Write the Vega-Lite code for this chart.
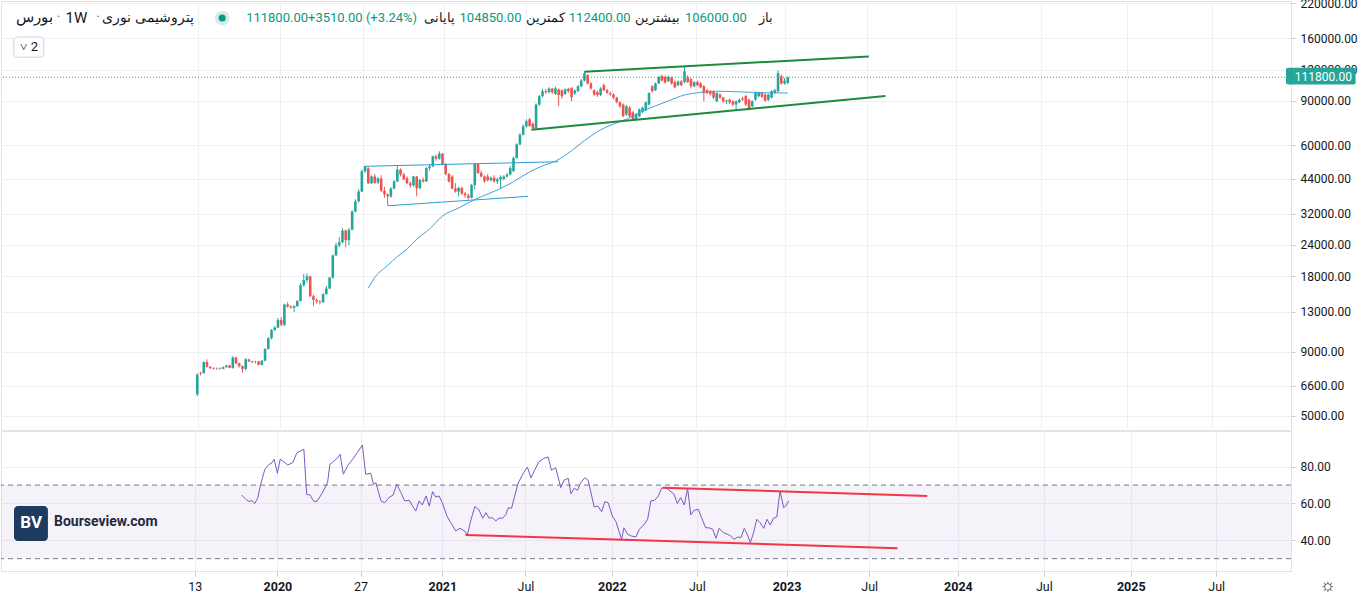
{
  "$schema": "https://vega.github.io/schema/vega-lite/v6.json",
  "background": "white",
  "padding": {"left": 0, "top": -4, "right": 0, "bottom": 0},
  "spacing": 1,
  "bounds": "flush",
  "config": {
    "view": {"stroke": "#e0e3eb"},
    "font": "Roboto",
    "axis": {"labelFont": "Roboto", "labelFontSize": 12, "labelColor": "#131722", "gridColor": "#eef0f4", "gridWidth": 1, "tickColor": "#c9ccd4", "domain": false, "title": null},
    "text": {"font": "Roboto"}
  },
  "datasets": {
    "one": [{}],
    "candles": [
      {"date":"2019-07-05","open":6100,"high":7400,"low":6000,"close":7300},
      {"date":"2019-07-12","open":7420,"high":7500,"low":7250,"close":7380},
      {"date":"2019-07-19","open":7400,"high":8250,"low":7380,"close":8200},
      {"date":"2019-07-26","open":8200,"high":8400,"low":7800,"close":7850},
      {"date":"2019-08-02","open":7850,"high":7900,"low":7700,"close":7750},
      {"date":"2019-08-09","open":7760,"high":7820,"low":7650,"close":7720},
      {"date":"2019-08-16","open":7720,"high":7800,"low":7650,"close":7740},
      {"date":"2019-08-23","open":7740,"high":7800,"low":7650,"close":7700},
      {"date":"2019-08-30","open":7700,"high":7880,"low":7680,"close":7820},
      {"date":"2019-09-06","open":7820,"high":8000,"low":7800,"close":7950},
      {"date":"2019-09-13","open":7950,"high":8000,"low":7750,"close":7780},
      {"date":"2019-09-20","open":7780,"high":8650,"low":7720,"close":8550},
      {"date":"2019-09-27","open":8550,"high":8600,"low":8050,"close":8100},
      {"date":"2019-10-04","open":8100,"high":8150,"low":7800,"close":7900},
      {"date":"2019-10-11","open":7900,"high":7950,"low":7450,"close":7700},
      {"date":"2019-10-18","open":7700,"high":8500,"low":7600,"close":8400},
      {"date":"2019-10-25","open":8400,"high":8450,"low":8200,"close":8250},
      {"date":"2019-11-01","open":8250,"high":8300,"low":8100,"close":8200},
      {"date":"2019-11-08","open":8200,"high":8300,"low":8100,"close":8230},
      {"date":"2019-11-15","open":8230,"high":8300,"low":7950,"close":8000},
      {"date":"2019-11-22","open":8000,"high":8350,"low":7950,"close":8300},
      {"date":"2019-11-29","open":8300,"high":9300,"low":8250,"close":9250},
      {"date":"2019-12-06","open":9250,"high":10300,"low":9200,"close":10200},
      {"date":"2019-12-13","open":10200,"high":11100,"low":10100,"close":11000},
      {"date":"2019-12-20","open":11000,"high":11400,"low":10900,"close":11250},
      {"date":"2019-12-27","open":11250,"high":12300,"low":11200,"close":12050},
      {"date":"2020-01-03","open":12050,"high":12400,"low":11400,"close":11550},
      {"date":"2020-01-10","open":11550,"high":14000,"low":11400,"close":13900},
      {"date":"2020-01-17","open":13900,"high":14200,"low":13500,"close":13650},
      {"date":"2020-01-24","open":13650,"high":13800,"low":13400,"close":13500},
      {"date":"2020-01-31","open":13500,"high":13800,"low":13000,"close":13700},
      {"date":"2020-02-07","open":13700,"high":14500,"low":13600,"close":14350},
      {"date":"2020-02-14","open":14350,"high":16900,"low":14300,"close":16600},
      {"date":"2020-02-21","open":16600,"high":18400,"low":16400,"close":17400},
      {"date":"2020-02-28","open":17400,"high":18500,"low":17000,"close":18000},
      {"date":"2020-03-06","open":18000,"high":18100,"low":14900,"close":15000},
      {"date":"2020-03-13","open":15000,"high":15200,"low":13700,"close":14500},
      {"date":"2020-03-20","open":14500,"high":14700,"low":14000,"close":14300},
      {"date":"2020-03-27","open":14300,"high":14500,"low":13900,"close":14200},
      {"date":"2020-04-03","open":14200,"high":15400,"low":14100,"close":15300},
      {"date":"2020-04-10","open":15300,"high":16500,"low":15200,"close":16100},
      {"date":"2020-04-17","open":16100,"high":17900,"low":16000,"close":17800},
      {"date":"2020-04-24","open":17800,"high":22000,"low":17600,"close":21800},
      {"date":"2020-05-01","open":21800,"high":24500,"low":21700,"close":23900},
      {"date":"2020-05-08","open":23900,"high":25800,"low":23500,"close":24600},
      {"date":"2020-05-15","open":24600,"high":28000,"low":24400,"close":27400},
      {"date":"2020-05-22","open":27400,"high":27600,"low":23500,"close":25100},
      {"date":"2020-05-29","open":25100,"high":28000,"low":24000,"close":27600},
      {"date":"2020-06-05","open":27600,"high":33000,"low":27500,"close":32600},
      {"date":"2020-06-12","open":32600,"high":36500,"low":32400,"close":35800},
      {"date":"2020-06-19","open":35800,"high":40000,"low":35500,"close":39200},
      {"date":"2020-06-26","open":39200,"high":48000,"low":39000,"close":47200},
      {"date":"2020-07-03","open":47200,"high":49600,"low":46500,"close":49400},
      {"date":"2020-07-10","open":48500,"high":49000,"low":42000,"close":42300},
      {"date":"2020-07-17","open":42300,"high":45500,"low":42000,"close":45000},
      {"date":"2020-07-24","open":45000,"high":46000,"low":42000,"close":42500},
      {"date":"2020-07-31","open":42500,"high":44800,"low":42000,"close":44200},
      {"date":"2020-08-07","open":44200,"high":45500,"low":39000,"close":39500},
      {"date":"2020-08-14","open":39500,"high":41000,"low":37000,"close":38200},
      {"date":"2020-08-21","open":38200,"high":38500,"low":34500,"close":37500},
      {"date":"2020-08-28","open":37500,"high":40800,"low":37000,"close":40300},
      {"date":"2020-09-04","open":40300,"high":43500,"low":40000,"close":43000},
      {"date":"2020-09-11","open":43000,"high":49700,"low":42800,"close":47900},
      {"date":"2020-09-18","open":47900,"high":48500,"low":45000,"close":45800},
      {"date":"2020-09-25","open":45800,"high":46500,"low":43500,"close":43900},
      {"date":"2020-10-02","open":44300,"high":45000,"low":42000,"close":42300},
      {"date":"2020-10-09","open":42300,"high":43000,"low":40500,"close":41500},
      {"date":"2020-10-16","open":41500,"high":45300,"low":41000,"close":45000},
      {"date":"2020-10-23","open":45000,"high":45200,"low":37500,"close":40400},
      {"date":"2020-10-30","open":40400,"high":44000,"low":40000,"close":43600},
      {"date":"2020-11-06","open":43600,"high":44500,"low":42500,"close":43000},
      {"date":"2020-11-13","open":43000,"high":49000,"low":42800,"close":48600},
      {"date":"2020-11-20","open":48600,"high":50500,"low":47500,"close":49400},
      {"date":"2020-11-27","open":49400,"high":54500,"low":49000,"close":54100},
      {"date":"2020-12-04","open":54100,"high":55000,"low":52000,"close":53000},
      {"date":"2020-12-11","open":53000,"high":56700,"low":52500,"close":55500},
      {"date":"2020-12-18","open":55500,"high":55800,"low":50000,"close":50400},
      {"date":"2020-12-25","open":50400,"high":51000,"low":45500,"close":46000},
      {"date":"2021-01-01","open":46000,"high":46500,"low":42500,"close":43000},
      {"date":"2021-01-08","open":45000,"high":45500,"low":40000,"close":40300},
      {"date":"2021-01-15","open":40300,"high":42300,"low":38800,"close":39200},
      {"date":"2021-01-22","open":39200,"high":41000,"low":37500,"close":40500},
      {"date":"2021-01-29","open":40500,"high":41000,"low":38000,"close":38500},
      {"date":"2021-02-05","open":38500,"high":39000,"low":37000,"close":37800},
      {"date":"2021-02-12","open":37800,"high":38500,"low":36400,"close":37000},
      {"date":"2021-02-19","open":37000,"high":42000,"low":36800,"close":41600},
      {"date":"2021-02-26","open":41600,"high":50800,"low":40000,"close":50400},
      {"date":"2021-03-05","open":50400,"high":50800,"low":46000,"close":46500},
      {"date":"2021-03-12","open":46500,"high":47500,"low":44500,"close":45000},
      {"date":"2021-03-19","open":45000,"high":45500,"low":42500,"close":43000},
      {"date":"2021-03-26","open":45000,"high":46000,"low":43000,"close":43500},
      {"date":"2021-04-02","open":43500,"high":45000,"low":43000,"close":44500},
      {"date":"2021-04-09","open":44500,"high":45500,"low":42500,"close":43000},
      {"date":"2021-04-16","open":43000,"high":44500,"low":42000,"close":43800},
      {"date":"2021-04-23","open":43800,"high":45500,"low":40300,"close":44800},
      {"date":"2021-04-30","open":44000,"high":45500,"low":43500,"close":45000},
      {"date":"2021-05-07","open":45000,"high":46500,"low":44500,"close":45800},
      {"date":"2021-05-14","open":45800,"high":49500,"low":45500,"close":48600},
      {"date":"2021-05-21","open":47200,"high":54000,"low":47000,"close":53300},
      {"date":"2021-05-28","open":53300,"high":61000,"low":53000,"close":60400},
      {"date":"2021-06-04","open":60400,"high":67000,"low":60000,"close":66000},
      {"date":"2021-06-11","open":66000,"high":72500,"low":65500,"close":71300},
      {"date":"2021-06-18","open":71300,"high":76000,"low":70500,"close":74700},
      {"date":"2021-06-25","open":76000,"high":77000,"low":71000,"close":71500},
      {"date":"2021-07-02","open":73000,"high":74000,"low":68800,"close":70000},
      {"date":"2021-07-09","open":70000,"high":88000,"low":69500,"close":87100},
      {"date":"2021-07-16","open":87100,"high":95000,"low":86000,"close":94000},
      {"date":"2021-07-23","open":94000,"high":100500,"low":93000,"close":98400},
      {"date":"2021-07-30","open":98400,"high":100500,"low":96000,"close":97500},
      {"date":"2021-08-06","open":97500,"high":102000,"low":96500,"close":100800},
      {"date":"2021-08-13","open":100800,"high":101500,"low":96000,"close":97500},
      {"date":"2021-08-20","open":96000,"high":102500,"low":95000,"close":101000},
      {"date":"2021-08-27","open":100000,"high":101000,"low":85700,"close":95000},
      {"date":"2021-09-03","open":99000,"high":100000,"low":92000,"close":94000},
      {"date":"2021-09-10","open":96000,"high":101000,"low":95000,"close":100000},
      {"date":"2021-09-17","open":100500,"high":101500,"low":97000,"close":98500},
      {"date":"2021-09-24","open":101500,"high":102000,"low":89700,"close":93000},
      {"date":"2021-10-01","open":96500,"high":100000,"low":95000,"close":99000},
      {"date":"2021-10-08","open":98400,"high":104000,"low":97500,"close":103000},
      {"date":"2021-10-15","open":103000,"high":110000,"low":102000,"close":108500},
      {"date":"2021-10-22","open":108500,"high":118000,"low":107500,"close":116000},
      {"date":"2021-10-29","open":114000,"high":115000,"low":104500,"close":105600},
      {"date":"2021-11-05","open":105600,"high":107000,"low":100000,"close":100800},
      {"date":"2021-11-12","open":99300,"high":100000,"low":94000,"close":95400},
      {"date":"2021-11-19","open":97500,"high":99000,"low":93500,"close":95000},
      {"date":"2021-11-26","open":95000,"high":102000,"low":94000,"close":100800},
      {"date":"2021-12-03","open":103900,"high":105500,"low":98500,"close":99300},
      {"date":"2021-12-10","open":99300,"high":100500,"low":96000,"close":97000},
      {"date":"2021-12-17","open":96500,"high":98000,"low":94500,"close":95500},
      {"date":"2021-12-24","open":95400,"high":96500,"low":91500,"close":92800},
      {"date":"2021-12-31","open":92800,"high":93500,"low":88000,"close":88900},
      {"date":"2022-01-07","open":88900,"high":89500,"low":84500,"close":85700},
      {"date":"2022-01-14","open":87100,"high":88000,"low":77500,"close":78200},
      {"date":"2022-01-21","open":79500,"high":86500,"low":78500,"close":85700},
      {"date":"2022-01-28","open":84500,"high":86000,"low":77500,"close":78200},
      {"date":"2022-02-04","open":81000,"high":82000,"low":75000,"close":76100},
      {"date":"2022-02-11","open":76100,"high":80500,"low":75000,"close":79500},
      {"date":"2022-02-18","open":78200,"high":84000,"low":77500,"close":83200},
      {"date":"2022-02-25","open":81500,"high":85500,"low":80500,"close":84500},
      {"date":"2022-03-04","open":82500,"high":89500,"low":82000,"close":88900},
      {"date":"2022-03-11","open":87100,"high":97500,"low":86500,"close":96800},
      {"date":"2022-03-18","open":103000,"high":104000,"low":97000,"close":98400},
      {"date":"2022-03-25","open":99300,"high":106500,"low":98500,"close":105600},
      {"date":"2022-04-01","open":105600,"high":113000,"low":105000,"close":112000},
      {"date":"2022-04-08","open":113000,"high":114500,"low":107500,"close":108500},
      {"date":"2022-04-15","open":112000,"high":113500,"low":105500,"close":106500},
      {"date":"2022-04-22","open":108000,"high":113500,"low":107000,"close":112000},
      {"date":"2022-04-29","open":111500,"high":112500,"low":104500,"close":105600},
      {"date":"2022-05-06","open":107000,"high":108500,"low":101000,"close":102000},
      {"date":"2022-05-13","open":104000,"high":108500,"low":103000,"close":107500},
      {"date":"2022-05-20","open":107500,"high":109000,"low":103000,"close":104000},
      {"date":"2022-05-27","open":107000,"high":122700,"low":106000,"close":118000},
      {"date":"2022-06-03","open":112000,"high":114000,"low":106000,"close":107000},
      {"date":"2022-06-10","open":110000,"high":111000,"low":101000,"close":103000},
      {"date":"2022-06-17","open":103000,"high":108000,"low":102000,"close":107000},
      {"date":"2022-06-24","open":107000,"high":108500,"low":103000,"close":104000},
      {"date":"2022-07-01","open":105500,"high":107000,"low":101000,"close":102000},
      {"date":"2022-07-08","open":103000,"high":104000,"low":89700,"close":96800},
      {"date":"2022-07-15","open":99300,"high":100500,"low":95500,"close":96800},
      {"date":"2022-07-22","open":98500,"high":99500,"low":94500,"close":96000},
      {"date":"2022-07-29","open":98400,"high":99000,"low":91500,"close":92800},
      {"date":"2022-08-05","open":89700,"high":97500,"low":89000,"close":96800},
      {"date":"2022-08-12","open":95400,"high":96500,"low":91500,"close":92800},
      {"date":"2022-08-19","open":92800,"high":93500,"low":88500,"close":89700},
      {"date":"2022-08-26","open":89700,"high":91000,"low":87500,"close":90500},
      {"date":"2022-09-02","open":91000,"high":92000,"low":87500,"close":88900},
      {"date":"2022-09-09","open":89700,"high":90500,"low":86000,"close":87100},
      {"date":"2022-09-16","open":87100,"high":90500,"low":83200,"close":89700},
      {"date":"2022-09-23","open":88900,"high":92000,"low":88000,"close":91000},
      {"date":"2022-09-30","open":92000,"high":93500,"low":90000,"close":91000},
      {"date":"2022-10-07","open":94000,"high":95000,"low":86000,"close":87100},
      {"date":"2022-10-14","open":91000,"high":92000,"low":82500,"close":83200},
      {"date":"2022-10-21","open":85700,"high":90500,"low":85000,"close":89700},
      {"date":"2022-10-28","open":91000,"high":98000,"low":90000,"close":96800},
      {"date":"2022-11-04","open":94000,"high":98000,"low":93000,"close":96800},
      {"date":"2022-11-11","open":96800,"high":97500,"low":92500,"close":93500},
      {"date":"2022-11-18","open":95400,"high":96500,"low":89500,"close":90200},
      {"date":"2022-11-25","open":91000,"high":96000,"low":90000,"close":95400},
      {"date":"2022-12-02","open":92800,"high":99500,"low":92000,"close":98400},
      {"date":"2022-12-09","open":96800,"high":100500,"low":96000,"close":99300},
      {"date":"2022-12-16","open":98400,"high":119000,"low":97500,"close":116000},
      {"date":"2022-12-23","open":112900,"high":114500,"low":104500,"close":105600},
      {"date":"2022-12-30","open":105600,"high":111000,"low":104500,"close":108290},
      {"date":"2023-01-06","open":106000,"high":112400,"low":104850,"close":111800}
    ],
    "ma": [
      {"date":"2020-07-10","ma":16150},{"date":"2020-07-24","ma":17800},{"date":"2020-08-21","ma":19900},
      {"date":"2020-09-11","ma":21600},{"date":"2020-10-02","ma":23100},{"date":"2020-10-23","ma":25300},
      {"date":"2020-11-20","ma":27800},{"date":"2020-12-18","ma":31300},{"date":"2021-01-22","ma":33700},
      {"date":"2021-02-26","ma":36400},{"date":"2021-03-26","ma":38300},{"date":"2021-04-23","ma":40300},
      {"date":"2021-05-21","ma":42900},{"date":"2021-06-25","ma":46900},{"date":"2021-07-23","ma":49600},
      {"date":"2021-08-20","ma":51800},{"date":"2021-09-24","ma":57000},{"date":"2021-10-22","ma":62500},
      {"date":"2021-11-26","ma":69000},{"date":"2021-12-24","ma":72800},{"date":"2022-01-21","ma":76100},
      {"date":"2022-02-25","ma":81900},{"date":"2022-03-25","ma":86000},{"date":"2022-04-22","ma":90000},
      {"date":"2022-05-27","ma":95000},{"date":"2022-07-01","ma":97300},{"date":"2022-08-05","ma":98400},
      {"date":"2022-09-09","ma":98000},{"date":"2022-10-14","ma":97500},{"date":"2022-11-18","ma":97000},
      {"date":"2023-01-06","ma":96800}
    ],
    "rsi": [
      {"date":"2019-10-16","rsi":64.6},{"date":"2019-10-25","rsi":62.3},{"date":"2019-11-01","rsi":61.0},
      {"date":"2019-11-07","rsi":61.7},{"date":"2019-11-13","rsi":59.9},{"date":"2019-11-20","rsi":63.2},
      {"date":"2019-11-26","rsi":70.4},{"date":"2019-12-05","rsi":78.6},{"date":"2019-12-14","rsi":81.3},
      {"date":"2019-12-19","rsi":81.8},{"date":"2019-12-25","rsi":84.0},{"date":"2020-01-01","rsi":76.4},
      {"date":"2020-01-07","rsi":84.0},{"date":"2020-01-15","rsi":82.7},{"date":"2020-01-23","rsi":80.9},
      {"date":"2020-02-03","rsi":82.2},{"date":"2020-02-12","rsi":87.6},{"date":"2020-02-27","rsi":89.5},
      {"date":"2020-03-04","rsi":65.0},{"date":"2020-03-11","rsi":64.6},{"date":"2020-03-20","rsi":61.0},
      {"date":"2020-03-27","rsi":61.4},{"date":"2020-04-07","rsi":65.9},{"date":"2020-04-18","rsi":71.3},
      {"date":"2020-04-23","rsi":81.3},{"date":"2020-05-02","rsi":83.1},{"date":"2020-05-09","rsi":84.6},
      {"date":"2020-05-15","rsi":86.7},{"date":"2020-05-22","rsi":75.9},{"date":"2020-05-31","rsi":80.4},
      {"date":"2020-06-11","rsi":84.0},{"date":"2020-06-21","rsi":87.6},{"date":"2020-07-02","rsi":91.8},
      {"date":"2020-07-09","rsi":75.9},{"date":"2020-07-20","rsi":76.4},{"date":"2020-07-26","rsi":70.4},
      {"date":"2020-07-31","rsi":71.3},{"date":"2020-08-11","rsi":61.4},{"date":"2020-08-19","rsi":60.4},
      {"date":"2020-08-28","rsi":63.2},{"date":"2020-09-06","rsi":64.6},{"date":"2020-09-14","rsi":70.4},
      {"date":"2020-09-23","rsi":65.9},{"date":"2020-10-01","rsi":61.4},{"date":"2020-10-11","rsi":61.7},
      {"date":"2020-10-18","rsi":58.6},{"date":"2020-10-25","rsi":55.9},{"date":"2020-11-01","rsi":61.4},
      {"date":"2020-11-08","rsi":59.2},{"date":"2020-11-16","rsi":64.1},{"date":"2020-11-23","rsi":58.6},
      {"date":"2020-11-30","rsi":66.4},{"date":"2020-12-07","rsi":63.5},{"date":"2020-12-14","rsi":64.1},
      {"date":"2020-12-21","rsi":60.4},{"date":"2020-12-31","rsi":53.2},{"date":"2021-01-08","rsi":49.6},
      {"date":"2021-01-19","rsi":45.1},{"date":"2021-01-28","rsi":46.5},{"date":"2021-02-07","rsi":45.1},
      {"date":"2021-02-13","rsi":42.9},{"date":"2021-02-20","rsi":50.5},{"date":"2021-03-01","rsi":58.3},
      {"date":"2021-03-10","rsi":56.5},{"date":"2021-03-18","rsi":52.0},{"date":"2021-03-25","rsi":55.0},
      {"date":"2021-04-01","rsi":52.0},{"date":"2021-04-08","rsi":52.3},{"date":"2021-04-15","rsi":50.5},
      {"date":"2021-04-22","rsi":52.0},{"date":"2021-04-30","rsi":52.0},{"date":"2021-05-07","rsi":54.1},
      {"date":"2021-05-12","rsi":57.7},{"date":"2021-05-19","rsi":57.4},{"date":"2021-05-25","rsi":63.2},
      {"date":"2021-06-02","rsi":71.0},{"date":"2021-06-14","rsi":76.7},{"date":"2021-06-22","rsi":79.8},
      {"date":"2021-06-30","rsi":74.0},{"date":"2021-07-07","rsi":77.7},{"date":"2021-07-17","rsi":82.7},
      {"date":"2021-07-28","rsi":84.6},{"date":"2021-08-06","rsi":85.3},{"date":"2021-08-13","rsi":78.0},
      {"date":"2021-08-22","rsi":79.5},{"date":"2021-09-02","rsi":68.6},{"date":"2021-09-09","rsi":72.6},
      {"date":"2021-09-18","rsi":73.7},{"date":"2021-09-24","rsi":65.3},{"date":"2021-10-01","rsi":68.3},
      {"date":"2021-10-08","rsi":67.2},{"date":"2021-10-15","rsi":71.3},{"date":"2021-10-24","rsi":74.0},
      {"date":"2021-10-31","rsi":72.6},{"date":"2021-11-13","rsi":58.1},{"date":"2021-11-21","rsi":58.6},
      {"date":"2021-11-29","rsi":55.5},{"date":"2021-12-06","rsi":61.0},{"date":"2021-12-13","rsi":60.4},
      {"date":"2021-12-22","rsi":53.2},{"date":"2021-12-30","rsi":50.0},{"date":"2022-01-11","rsi":40.5},
      {"date":"2022-01-16","rsi":46.8},{"date":"2022-01-24","rsi":43.3},{"date":"2022-02-01","rsi":42.3},
      {"date":"2022-02-11","rsi":41.8},{"date":"2022-02-18","rsi":46.0},{"date":"2022-02-28","rsi":48.3},
      {"date":"2022-03-08","rsi":51.4},{"date":"2022-03-15","rsi":61.4},{"date":"2022-03-23","rsi":61.7},
      {"date":"2022-03-31","rsi":64.1},{"date":"2022-04-07","rsi":68.3},{"date":"2022-04-16","rsi":68.6},
      {"date":"2022-04-23","rsi":67.2},{"date":"2022-05-04","rsi":65.0},{"date":"2022-05-11","rsi":59.9},
      {"date":"2022-05-18","rsi":63.2},{"date":"2022-05-26","rsi":59.2},{"date":"2022-06-02","rsi":68.3},
      {"date":"2022-06-09","rsi":53.8},{"date":"2022-06-16","rsi":56.3},{"date":"2022-06-25","rsi":56.8},
      {"date":"2022-07-02","rsi":52.3},{"date":"2022-07-11","rsi":46.8},{"date":"2022-07-18","rsi":46.8},
      {"date":"2022-07-26","rsi":46.0},{"date":"2022-08-02","rsi":41.1},{"date":"2022-08-09","rsi":46.5},
      {"date":"2022-08-18","rsi":44.1},{"date":"2022-08-27","rsi":43.3},{"date":"2022-09-03","rsi":42.3},
      {"date":"2022-09-10","rsi":40.5},{"date":"2022-09-18","rsi":41.8},{"date":"2022-09-25","rsi":41.4},
      {"date":"2022-10-02","rsi":46.5},{"date":"2022-10-09","rsi":42.9},{"date":"2022-10-15","rsi":38.7},
      {"date":"2022-10-22","rsi":44.1},{"date":"2022-10-29","rsi":51.4},{"date":"2022-11-05","rsi":49.6},
      {"date":"2022-11-13","rsi":46.5},{"date":"2022-11-20","rsi":51.4},{"date":"2022-11-27","rsi":48.3},
      {"date":"2022-12-04","rsi":52.0},{"date":"2022-12-11","rsi":52.7},{"date":"2022-12-18","rsi":66.8},
      {"date":"2022-12-26","rsi":57.7},{"date":"2022-12-30","rsi":58.6},{"date":"2023-01-06","rsi":61.4}
    ]
  },
  "vconcat": [
    {
      "width": 1290,
      "height": 429,
      "layer": [
        {
          "data": {"name": "candles"},
          "mark": {"type": "rule", "strokeWidth": 1},
          "encoding": {
            "x": {"field": "date", "type": "temporal",
              "scale": {"type": "utc", "domain": [{"year": 2018, "month": 5, "date": 16, "utc": true}, {"year": 2025, "month": 12, "date": 22, "utc": true}]},
              "axis": {"labels": false, "ticks": false, "domain": false, "grid": true, "title": null,
                "values": [{"year":2019,"month":7,"date":7,"utc":true},{"year":2020,"month":1,"date":1,"utc":true},{"year":2020,"month":6,"date":28,"utc":true},{"year":2020,"month":12,"date":21,"utc":true},{"year":2021,"month":6,"date":18,"utc":true},{"year":2021,"month":12,"date":21,"utc":true},{"year":2022,"month":6,"date":22,"utc":true},{"year":2023,"month":1,"date":1,"utc":true},{"year":2023,"month":6,"date":28,"utc":true},{"year":2024,"month":1,"date":5,"utc":true},{"year":2024,"month":7,"date":8,"utc":true},{"year":2025,"month":1,"date":11,"utc":true},{"year":2025,"month":7,"date":14,"utc":true}]}},
            "y": {"field": "low", "type": "quantitative",
              "scale": {"type": "log", "domain": [4396, 225100], "nice": false},
              "axis": {"orient": "right", "values": [5000, 6600, 9000, 13000, 18000, 24000, 32000, 44000, 60000, 90000, 120000, 160000, 220000], "format": ".2f", "grid": true, "tickSize": 4, "labelPadding": 5, "title": null}},
            "y2": {"field": "high"},
            "color": {"condition": {"test": "datum.close >= datum.open", "value": "#26a69a"}, "value": "#ef5350"}
          }
        },
        {
          "data": {"name": "candles"},
          "mark": {"type": "bar", "size": 2.6},
          "encoding": {
            "x": {"field": "date", "type": "temporal"},
            "y": {"field": "open", "type": "quantitative"},
            "y2": {"field": "close"},
            "color": {"condition": {"test": "datum.close >= datum.open", "value": "#26a69a"}, "value": "#ef5350"}
          }
        },
        {
          "data": {"name": "ma"},
          "mark": {"type": "line", "color": "#3d9fe0", "strokeWidth": 1, "interpolate": "monotone"},
          "encoding": {
            "x": {"field": "date", "type": "temporal"},
            "y": {"field": "ma", "type": "quantitative"}
          }
        },
        {
          "data": {"values": [{"date": "2020-07-02", "price": 49400}, {"date": "2021-08-26", "price": 51500}]},
          "mark": {"type": "line", "color": "#2a9fd6", "strokeWidth": 1},
          "encoding": {"x": {"field": "date", "type": "temporal"}, "y": {"field": "price", "type": "quantitative"}}
        },
        {
          "data": {"values": [{"date": "2020-08-21", "price": 34400}, {"date": "2021-06-22", "price": 37500}]},
          "mark": {"type": "line", "color": "#2a9fd6", "strokeWidth": 1},
          "encoding": {"x": {"field": "date", "type": "temporal"}, "y": {"field": "price", "type": "quantitative"}}
        },
        {
          "data": {"values": [{"date": "2021-10-22", "price": 117500}, {"date": "2023-07-01", "price": 135400}]},
          "mark": {"type": "line", "color": "#1e8a3c", "strokeWidth": 2},
          "encoding": {"x": {"field": "date", "type": "temporal"}, "y": {"field": "price", "type": "quantitative"}}
        },
        {
          "data": {"values": [{"date": "2021-06-29", "price": 69100}, {"date": "2023-08-06", "price": 94100}]},
          "mark": {"type": "line", "color": "#1e8a3c", "strokeWidth": 2},
          "encoding": {"x": {"field": "date", "type": "temporal"}, "y": {"field": "price", "type": "quantitative"}}
        },
        {
          "data": {"name": "one"},
          "mark": {"type": "rule", "color": "#26a69a", "strokeDash": [1, 2], "strokeWidth": 1},
          "encoding": {"y": {"datum": 111800, "type": "quantitative"}}
        },
        {
          "data": {"name": "one"},
          "mark": {"type": "rect", "color": "#26a69a", "cornerRadius": 2},
          "encoding": {
            "x": {"datum": {"year": 2025, "month": 12, "date": 22, "utc": true}, "type": "temporal"},
            "x2": {"datum": {"year": 2026, "month": 5, "date": 22, "utc": true}},
            "y": {"datum": 121900, "type": "quantitative"},
            "y2": {"datum": 104650}
          }
        },
        {
          "data": {"name": "one"},
          "mark": {"type": "text", "color": "white", "fontSize": 12, "align": "left", "baseline": "middle", "text": "111800.00"},
          "encoding": {
            "x": {"datum": {"year": 2026, "month": 1, "date": 10, "utc": true}, "type": "temporal"},
            "y": {"datum": 111800, "type": "quantitative"}
          }
        },
        {
          "data": {"name": "one"},
          "mark": {"type": "text", "color": "#131722", "fontSize": 14.5, "align": "left", "baseline": "middle", "text": "بورس"},
          "encoding": {"x": {"datum": {"year": 2018, "month": 6, "date": 6, "utc": true}, "type": "temporal"}, "y": {"datum": 192500, "type": "quantitative"}}
        },
        {
          "data": {"name": "one"},
          "mark": {"type": "text", "color": "#787b86", "fontSize": 14, "align": "center", "baseline": "middle", "text": "·"},
          "encoding": {"x": {"datum": {"year": 2018, "month": 9, "date": 7, "utc": true}, "type": "temporal"}, "y": {"datum": 192500, "type": "quantitative"}}
        },
        {
          "data": {"name": "one"},
          "mark": {"type": "text", "color": "#131722", "fontSize": 15, "align": "left", "baseline": "middle", "text": "1W"},
          "encoding": {"x": {"datum": {"year": 2018, "month": 9, "date": 22, "utc": true}, "type": "temporal"}, "y": {"datum": 192500, "type": "quantitative"}}
        },
        {
          "data": {"name": "one"},
          "mark": {"type": "text", "color": "#787b86", "fontSize": 14, "align": "center", "baseline": "middle", "text": "·"},
          "encoding": {"x": {"datum": {"year": 2018, "month": 12, "date": 2, "utc": true}, "type": "temporal"}, "y": {"datum": 192500, "type": "quantitative"}}
        },
        {
          "data": {"name": "one"},
          "mark": {"type": "text", "color": "#131722", "fontSize": 13.5, "align": "right", "baseline": "middle", "text": "پتروشیمی نوری"},
          "encoding": {"x": {"datum": {"year": 2019, "month": 6, "date": 27, "utc": true}, "type": "temporal"}, "y": {"datum": 192500, "type": "quantitative"}}
        },
        {
          "data": {"name": "one"},
          "mark": {"type": "point", "filled": true, "color": "#26a69a", "opacity": 0.2, "size": 220},
          "encoding": {
            "x": {"datum": {"year": 2019, "month": 8, "date": 28, "utc": true}, "type": "temporal"},
            "y": {"datum": 192500, "type": "quantitative"}
          }
        },
        {
          "data": {"name": "one"},
          "mark": {"type": "point", "filled": true, "color": "#089981", "opacity": 1, "size": 50},
          "encoding": {
            "x": {"datum": {"year": 2019, "month": 8, "date": 28, "utc": true}, "type": "temporal"},
            "y": {"datum": 192500, "type": "quantitative"}
          }
        },
        {
          "data": {"name": "one"},
          "mark": {"type": "text", "color": "#089981", "fontSize": 13, "align": "left", "baseline": "middle", "text": "111800.00+3510.00 (+3.24%)"},
          "encoding": {"x": {"datum": {"year": 2019, "month": 10, "date": 19, "utc": true}, "type": "temporal"}, "y": {"datum": 192500, "type": "quantitative"}}
        },
        {
          "data": {"name": "one"},
          "mark": {"type": "text", "color": "#131722", "fontSize": 13, "align": "left", "baseline": "middle", "text": "پایانی"},
          "encoding": {"x": {"datum": {"year": 2020, "month": 11, "date": 7, "utc": true}, "type": "temporal"}, "y": {"datum": 192500, "type": "quantitative"}}
        },
        {
          "data": {"name": "one"},
          "mark": {"type": "text", "color": "#089981", "fontSize": 13, "align": "left", "baseline": "middle", "text": "104850.00"},
          "encoding": {"x": {"datum": {"year": 2021, "month": 1, "date": 24, "utc": true}, "type": "temporal"}, "y": {"datum": 192500, "type": "quantitative"}}
        },
        {
          "data": {"name": "one"},
          "mark": {"type": "text", "color": "#131722", "fontSize": 13, "align": "left", "baseline": "middle", "text": "کمترین"},
          "encoding": {"x": {"datum": {"year": 2021, "month": 6, "date": 17, "utc": true}, "type": "temporal"}, "y": {"datum": 192500, "type": "quantitative"}}
        },
        {
          "data": {"name": "one"},
          "mark": {"type": "text", "color": "#089981", "fontSize": 13, "align": "left", "baseline": "middle", "text": "112400.00"},
          "encoding": {"x": {"datum": {"year": 2021, "month": 9, "date": 18, "utc": true}, "type": "temporal"}, "y": {"datum": 192500, "type": "quantitative"}}
        },
        {
          "data": {"name": "one"},
          "mark": {"type": "text", "color": "#131722", "fontSize": 13, "align": "left", "baseline": "middle", "text": "بیشترین"},
          "encoding": {"x": {"datum": {"year": 2022, "month": 2, "date": 9, "utc": true}, "type": "temporal"}, "y": {"datum": 192500, "type": "quantitative"}}
        },
        {
          "data": {"name": "one"},
          "mark": {"type": "text", "color": "#089981", "fontSize": 13, "align": "left", "baseline": "middle", "text": "106000.00"},
          "encoding": {"x": {"datum": {"year": 2022, "month": 5, "date": 28, "utc": true}, "type": "temporal"}, "y": {"datum": 192500, "type": "quantitative"}}
        },
        {
          "data": {"name": "one"},
          "mark": {"type": "text", "color": "#131722", "fontSize": 13, "align": "right", "baseline": "middle", "text": "باز"},
          "encoding": {"x": {"datum": {"year": 2022, "month": 12, "date": 5, "utc": true}, "type": "temporal"}, "y": {"datum": 192500, "type": "quantitative"}}
        },
        {
          "data": {"name": "one"},
          "mark": {"type": "rect", "fill": "white", "stroke": "#d1d4dc", "strokeWidth": 1, "cornerRadius": 3},
          "encoding": {
            "x": {"datum": {"year": 2018, "month": 6, "date": 2, "utc": true}, "type": "temporal"},
            "x2": {"datum": {"year": 2018, "month": 8, "date": 6, "utc": true}},
            "y": {"datum": 161700, "type": "quantitative"},
            "y2": {"datum": 134500}
          }
        },
        {
          "data": {"name": "one"},
          "mark": {"type": "text", "color": "#131722", "fontSize": 13, "align": "center", "baseline": "middle", "text": "˅ 2"},
          "encoding": {"x": {"datum": {"year": 2018, "month": 7, "date": 5, "utc": true}, "type": "temporal"}, "y": {"datum": 147500, "type": "quantitative"}}
        }
      ]
    },
    {
      "width": 1290,
      "height": 140,
      "layer": [
        {
          "data": {"name": "one"},
          "mark": {"type": "rect", "color": "#7e57c2", "opacity": 0.08},
          "encoding": {"y": {"datum": 70, "type": "quantitative", "scale": {"domain": [23.3, 99.4], "nice": false, "zero": false}}, "y2": {"datum": 30}}
        },
        {
          "data": {"name": "one"},
          "mark": {"type": "rule", "color": "#787b86", "strokeDash": [5, 4], "strokeWidth": 1},
          "encoding": {"y": {"datum": 70, "type": "quantitative"}}
        },
        {
          "data": {"name": "one"},
          "mark": {"type": "rule", "color": "#787b86", "strokeDash": [5, 4], "strokeWidth": 1},
          "encoding": {"y": {"datum": 30, "type": "quantitative"}}
        },
        {
          "data": {"name": "rsi"},
          "mark": {"type": "line", "color": "#7e57c2", "strokeWidth": 1},
          "encoding": {
            "x": {"field": "date", "type": "temporal",
              "scale": {"type": "utc", "domain": [{"year": 2018, "month": 5, "date": 16, "utc": true}, {"year": 2025, "month": 12, "date": 22, "utc": true}]},
              "axis": {"grid": true, "tickSize": 5, "labelPadding": 4, "title": null, "labelFontSize": 12.5, "labelFlush": false,
                "labelExpr": "utcmonth(datum.value) == 11 ? '' + (utcyear(datum.value) + 1) : (utcmonth(datum.value) == 0 ? '' + utcyear(datum.value) : (utcyear(datum.value) == 2019 ? '13' : (utcyear(datum.value) == 2020 && utcmonth(datum.value) == 5 ? '27' : 'Jul')))",
                "labelFontWeight": {"condition": {"test": "utcmonth(datum.value) == 0 || utcmonth(datum.value) == 11", "value": "bold"}, "value": "normal"},
                "values": [{"year":2019,"month":7,"date":7,"utc":true},{"year":2020,"month":1,"date":1,"utc":true},{"year":2020,"month":6,"date":28,"utc":true},{"year":2020,"month":12,"date":21,"utc":true},{"year":2021,"month":6,"date":18,"utc":true},{"year":2021,"month":12,"date":21,"utc":true},{"year":2022,"month":6,"date":22,"utc":true},{"year":2023,"month":1,"date":1,"utc":true},{"year":2023,"month":6,"date":28,"utc":true},{"year":2024,"month":1,"date":5,"utc":true},{"year":2024,"month":7,"date":8,"utc":true},{"year":2025,"month":1,"date":11,"utc":true},{"year":2025,"month":7,"date":14,"utc":true}]}},
            "y": {"field": "rsi", "type": "quantitative",
              "axis": {"orient": "right", "values": [40, 60, 80], "format": ".2f", "grid": true, "tickSize": 4, "labelPadding": 5, "title": null}}
          }
        },
        {
          "data": {"values": [{"date": "2021-02-09", "rsi": 42.9}, {"date": "2023-08-28", "rsi": 35.7}]},
          "mark": {"type": "line", "color": "#f23645", "strokeWidth": 2},
          "encoding": {"x": {"field": "date", "type": "temporal"}, "y": {"field": "rsi", "type": "quantitative"}}
        },
        {
          "data": {"values": [{"date": "2022-04-09", "rsi": 68.6}, {"date": "2023-10-31", "rsi": 64.1}]},
          "mark": {"type": "line", "color": "#f23645", "strokeWidth": 2},
          "encoding": {"x": {"field": "date", "type": "temporal"}, "y": {"field": "rsi", "type": "quantitative"}}
        },
        {
          "data": {"name": "one"},
          "mark": {"type": "rect", "color": "#1d3a5f", "cornerRadius": 4},
          "encoding": {
            "x": {"datum": {"year": 2018, "month": 6, "date": 13, "utc": true}, "type": "temporal"},
            "x2": {"datum": {"year": 2018, "month": 8, "date": 25, "utc": true}},
            "y": {"datum": 58.6, "type": "quantitative"},
            "y2": {"datum": 39.6}
          }
        },
        {
          "data": {"name": "one"},
          "mark": {"type": "text", "color": "white", "fontSize": 17, "fontWeight": "bold", "align": "center", "baseline": "middle", "text": "BV"},
          "encoding": {"x": {"datum": {"year": 2018, "month": 7, "date": 20, "utc": true}, "type": "temporal"}, "y": {"datum": 49.4, "type": "quantitative"}}
        },
        {
          "data": {"name": "one"},
          "mark": {"type": "text", "color": "#1c2b3f", "fontSize": 14, "fontWeight": "bold", "align": "left", "baseline": "middle", "text": "Bourseview.com"},
          "encoding": {"x": {"datum": {"year": 2018, "month": 9, "date": 7, "utc": true}, "type": "temporal"}, "y": {"datum": 50, "type": "quantitative"}}
        },
        {
          "data": {"name": "one"},
          "mark": {"type": "text", "color": "#131722", "fontSize": 18, "align": "center", "baseline": "middle", "text": "☼"},
          "encoding": {"x": {"datum": {"year": 2026, "month": 3, "date": 11, "utc": true}, "type": "temporal"}, "y": {"datum": 15.2, "type": "quantitative"}}
        }
      ]
    }
  ]
}
